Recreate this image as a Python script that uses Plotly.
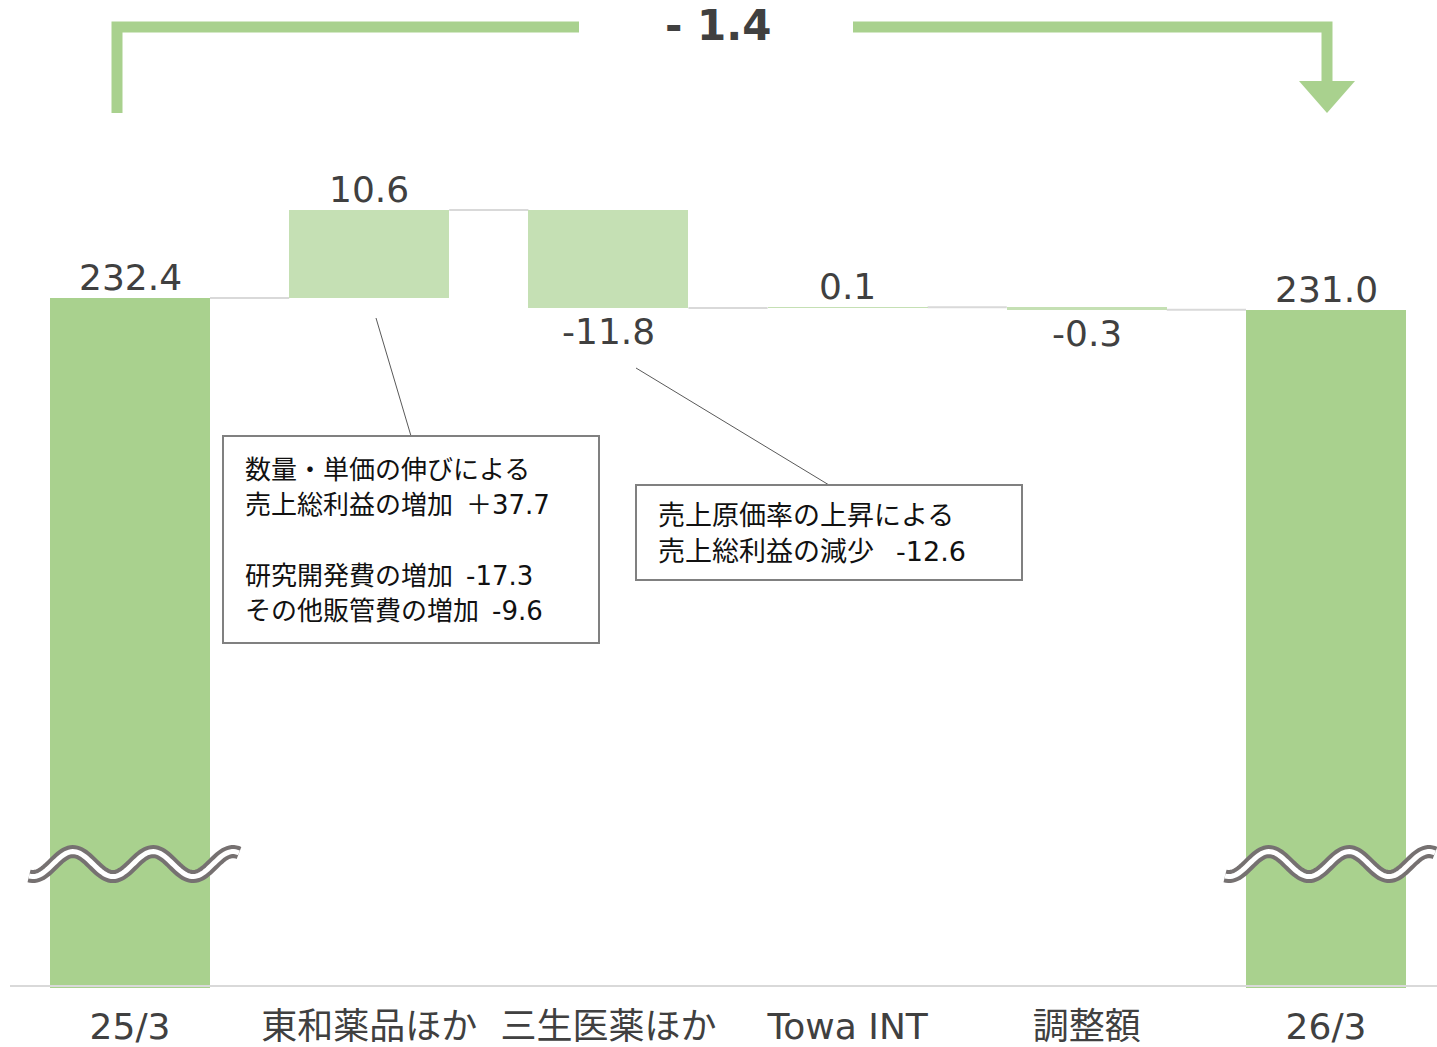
import math
import plotly.graph_objects as go

# ---------------- data ----------------
categories = ["25/3", "東和薬品ほか", "三生医薬ほか", "Towa INT", "調整額", "26/3"]
values = [232.4, 10.6, -11.8, 0.1, -0.3, 231.0]
measures = ["total", "relative", "relative", "relative", "relative", "total"]
total_change_label = "- 1.4"
callout_left = ["数量・単価の伸びによる", "売上総利益の増加\u2002＋37.7", "",
                "研究開発費の増加\u2002-17.3", "その他販管費の増加\u2002-9.6"]
callout_right = ["売上原価率の上昇による", "売上総利益の減少\u2002 -12.6"]

# ---------------- style / geometry ----------------
W, H = 1437, 1047
ML, MR, MT, MB = 10, 0, 0, 59
PLOT_W, PLOT_H = W - ML - MR, H - MT - MB
X_RANGE = [-0.5017, 5.464]
Y_RANGE = [149.27, 268.31]
BAR_W = 0.669
BREAK_Y = 164.2
TOTAL_COLOR = "#A9D18E"
DELTA_COLOR = "#C5E0B4"
TEXT_COLOR = "#404040"
FONT = "DejaVu Sans, Noto Sans CJK JP, sans-serif"

px_per_x = PLOT_W / (X_RANGE[1] - X_RANGE[0])
px_per_y = PLOT_H / (Y_RANGE[1] - Y_RANGE[0])


def xp(px):
    return (px - ML) / PLOT_W


def yp(py):
    return (MT + PLOT_H - py) / PLOT_H


# waterfall geometry from data
bases, ends = [], []
level = 0.0
for v, m in zip(values, measures):
    if m == "total":
        bases.append(0.0)
        level = v
    else:
        bases.append(level)
        level = level + v
    ends.append(level)
heights = [e - b for b, e in zip(bases, ends)]
colors = [TOTAL_COLOR if m == "total" else DELTA_COLOR for m in measures]
xs = list(range(len(categories)))

fig = go.Figure()
fig.add_trace(go.Bar(
    x=xs, y=heights, base=bases, width=BAR_W,
    marker=dict(color=colors, line=dict(width=0)),
    hoverinfo="skip", showlegend=False,
))

shapes = []
# connectors
for i in range(len(values) - 1):
    shapes.append(dict(type="line", xref="x", yref="y",
                       x0=i + BAR_W / 2, x1=i + 1 - BAR_W / 2,
                       y0=ends[i], y1=ends[i],
                       line=dict(color="#D9D9D9", width=2), layer="below"))

# baseline
shapes.append(dict(type="line", xref="paper", yref="paper",
                   x0=0, x1=1, y0=yp(986), y1=yp(986),
                   line=dict(color="#D9D9D9", width=2), layer="above"))

# wavy axis-break marks on the total bars
for i, m in enumerate(measures):
    if m != "total":
        continue
    pts = []
    n = 120
    for k in range(n + 1):
        dx = -101 + 210 * k / n
        dy = 12.5 * math.sin(2 * math.pi * (dx + 77) / 80)
        pts.append((i + dx / px_per_x, BREAK_Y + dy / px_per_y))
    path = "M " + " L ".join(f"{a:.5f},{b:.4f}" for a, b in pts)
    shapes.append(dict(type="path", xref="x", yref="y", path=path,
                       line=dict(color="#767171", width=13), layer="above"))
    shapes.append(dict(type="path", xref="x", yref="y", path=path,
                       line=dict(color="white", width=5), layer="above"))

# top bracket arrow
shapes.append(dict(type="path", xref="paper", yref="paper",
                   path=f"M {xp(117)},{yp(113)} L {xp(117)},{yp(27)} L {xp(579)},{yp(27)}",
                   line=dict(color=TOTAL_COLOR, width=11)))
shapes.append(dict(type="path", xref="paper", yref="paper",
                   path=f"M {xp(853)},{yp(27)} L {xp(1327)},{yp(27)} L {xp(1327)},{yp(86)}",
                   line=dict(color=TOTAL_COLOR, width=11)))
shapes.append(dict(type="path", xref="paper", yref="paper",
                   path=f"M {xp(1299)},{yp(81)} L {xp(1355)},{yp(81)} L {xp(1327)},{yp(113)} Z",
                   fillcolor=TOTAL_COLOR, line=dict(width=0)))

# callout leader lines
shapes.append(dict(type="line", xref="paper", yref="paper",
                   x0=xp(376), y0=yp(318), x1=xp(411), y1=yp(436),
                   line=dict(color="#595959", width=1)))
shapes.append(dict(type="line", xref="paper", yref="paper",
                   x0=xp(636), y0=yp(368), x1=xp(829), y1=yp(485),
                   line=dict(color="#595959", width=1)))
# callout boxes
shapes.append(dict(type="rect", xref="paper", yref="paper",
                   x0=xp(223), y0=yp(643), x1=xp(599), y1=yp(436),
                   fillcolor="white", line=dict(color="#808080", width=2)))
shapes.append(dict(type="rect", xref="paper", yref="paper",
                   x0=xp(636), y0=yp(580), x1=xp(1022), y1=yp(485),
                   fillcolor="white", line=dict(color="#808080", width=2)))

annotations = []
# value labels
for i, (v, m) in enumerate(zip(values, measures)):
    up = (m == "total") or v >= 0
    annotations.append(dict(
        x=i, y=ends[i], xref="x", yref="y", text=f"{v:.1f}", showarrow=False,
        yanchor="bottom" if up else "top", yshift=-2 if up else -1,
        font=dict(family=FONT, size=36, color=TEXT_COLOR)))

# total change label
annotations.append(dict(
    x=xp(717.5), y=yp(25.5), xref="paper", yref="paper", text=f"<b>{total_change_label}</b>",
    showarrow=False, xanchor="center", yanchor="middle",
    font=dict(family=FONT, size=42, color=TEXT_COLOR)))

# callout texts, one annotation per line
for lines, left_px, first_py, step, size in [
    (callout_left, 243, 470, 35.3, 26),
    (callout_right, 656, 516, 35.0, 27),
]:
    for k, line in enumerate(lines):
        if not line:
            continue
        annotations.append(dict(
            x=xp(left_px), y=yp(first_py + k * step), xref="paper", yref="paper",
            text=line, showarrow=False, xanchor="left", yanchor="middle", align="left",
            font=dict(family=FONT, size=size, color="#111111")))

fig.update_layout(
    width=W, height=H,
    margin=dict(l=ML, r=MR, t=MT, b=MB),
    paper_bgcolor="white", plot_bgcolor="white",
    bargap=0,
    shapes=shapes, annotations=annotations,
    xaxis=dict(range=X_RANGE, tickmode="array", tickvals=xs, ticktext=categories,
               showgrid=False, zeroline=False, showline=False,
               ticks="", ticklabelstandoff=14,
               tickfont=dict(family=FONT, size=36, color=TEXT_COLOR)),
    yaxis=dict(range=Y_RANGE, visible=False, showgrid=False, zeroline=False),
)

fig.write_html("out.html", config={"displayModeBar": False},
               post_script="document.body.style.margin='0';")
